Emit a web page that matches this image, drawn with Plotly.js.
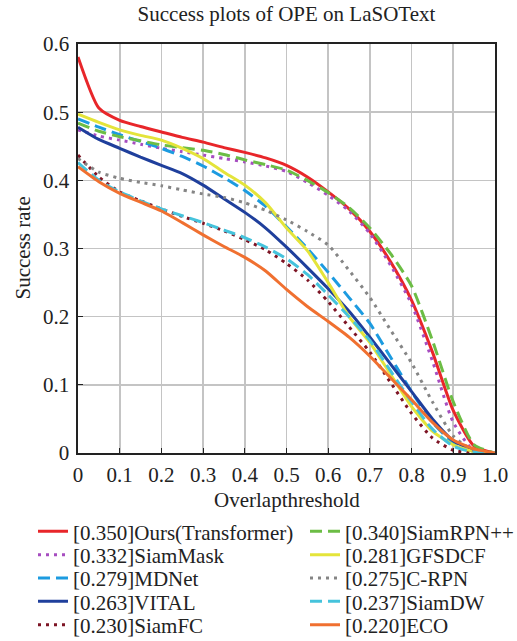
<!DOCTYPE html>
<html>
<head>
<meta charset="utf-8">
<script src="https://cdn.plot.ly/plotly-3.0.1.min.js"></script>
<style>html,body{margin:0;padding:0;background:#fff;}#chart{width:517px;height:641px;}</style>
</head>
<body>
<div id="chart"></div>
<script>
const thresholds = [0,0.05,0.1,0.15,0.2,0.25,0.3,0.35,0.4,0.45,0.5,0.55,0.6,0.65,0.7,0.75,0.8,0.85,0.9,0.95,1.0];

const ours     = [0.581,0.506,0.488,0.479,0.471,0.463,0.456,0.448,0.441,0.433,0.422,0.405,0.383,0.358,0.325,0.280,0.224,0.148,0.062,0.010,0.0];
const siamrpnpp= [0.484,0.472,0.464,0.458,0.452,0.448,0.444,0.438,0.430,0.423,0.415,0.400,0.382,0.360,0.330,0.292,0.245,0.165,0.075,0.012,0.0];
const siammask = [0.474,0.465,0.459,0.453,0.447,0.442,0.437,0.432,0.427,0.421,0.413,0.397,0.378,0.355,0.322,0.275,0.218,0.135,0.045,0.003,0.0];
const gfsdcf   = [0.497,0.485,0.474,0.466,0.459,0.447,0.432,0.412,0.393,0.367,0.330,0.297,0.250,0.200,0.162,0.115,0.068,0.032,0.012,0.002,0.0];
const mdnet    = [0.490,0.478,0.467,0.457,0.447,0.435,0.421,0.404,0.385,0.362,0.332,0.300,0.265,0.228,0.190,0.140,0.090,0.045,0.015,0.002,0.0];
const crpn     = [0.432,0.412,0.403,0.397,0.392,0.386,0.380,0.375,0.367,0.356,0.342,0.325,0.305,0.268,0.228,0.180,0.132,0.075,0.025,0.003,0.0];
const vital    = [0.478,0.460,0.447,0.434,0.422,0.410,0.393,0.373,0.353,0.330,0.302,0.272,0.241,0.208,0.170,0.130,0.090,0.050,0.018,0.004,0.0];
const siamdw   = [0.426,0.400,0.383,0.370,0.358,0.348,0.338,0.327,0.316,0.302,0.285,0.262,0.232,0.200,0.165,0.120,0.075,0.035,0.010,0.001,0.0];
const siamfc   = [0.437,0.405,0.383,0.370,0.358,0.347,0.337,0.326,0.313,0.298,0.278,0.254,0.222,0.185,0.148,0.103,0.058,0.022,0.004,0.0,0.0];
const eco      = [0.420,0.398,0.381,0.368,0.355,0.338,0.320,0.303,0.287,0.267,0.240,0.215,0.193,0.170,0.142,0.110,0.078,0.045,0.019,0.006,0.0];

const xTickVals = [0,0.1,0.2,0.3,0.4,0.5,0.6,0.7,0.8,0.9,1.0];
const xTickText = ["0","0.1","0.2","0.3","0.4","0.5","0.6","0.7","0.8","0.9","1.0"];
const yTickVals = [0,0.1,0.2,0.3,0.4,0.5,0.6];
const yTickText = ["0","0.1","0.2","0.3","0.4","0.5","0.6"];

const titleText = "Success plots of OPE on LaSOText";
const xTitle = "Overlapthreshold";
const yTitle = "Success rate";

const DASH = "12px,6px", DOT = "3px,5px";
const series = [
  {name:"[0.350]Ours(Transformer)", y:ours,      color:"#e8262a", dash:"solid", col:0, row:0},
  {name:"[0.332]SiamMask",          y:siammask,  color:"#a64dc0", dash:DOT,     col:0, row:1},
  {name:"[0.279]MDNet",             y:mdnet,     color:"#1c9be0", dash:DASH,    col:0, row:2},
  {name:"[0.263]VITAL",             y:vital,     color:"#1f3f9c", dash:"solid", col:0, row:3},
  {name:"[0.230]SiamFC",            y:siamfc,    color:"#7d1424", dash:DOT,     col:0, row:4},
  {name:"[0.340]SiamRPN++",         y:siamrpnpp, color:"#6cbd45", dash:DASH,    col:1, row:0},
  {name:"[0.281]GFSDCF",            y:gfsdcf,    color:"#e4e43a", dash:"solid", col:1, row:1},
  {name:"[0.275]C-RPN",             y:crpn,      color:"#858585", dash:DOT,     col:1, row:2},
  {name:"[0.237]SiamDW",            y:siamdw,    color:"#45c3dc", dash:DASH,    col:1, row:3},
  {name:"[0.220]ECO",               y:eco,       color:"#f07030", dash:"solid", col:1, row:4}
];

const font = "Liberation Serif, Times New Roman, serif";
const W = 517, H = 641;
const M = {l:78, r:22, t:44, b:188};
const plotW = W - M.l - M.r, plotH = H - M.t - M.b;
const colX = [33, 305];
const rowY = [531.7, 555, 578.3, 601.7, 625];

const traces = [];
const layout = {
  width:W, height:H,
  margin:{l:M.l, r:M.r, t:M.t, b:M.b, autoexpand:false},
  paper_bgcolor:"#fff", plot_bgcolor:"#fff",
  font:{family:font, color:"#222", size:21},
  title:{text:titleText, font:{family:font, size:21, color:"#222"},
    x:0.5, xref:"paper", xanchor:"center", y:1-14/H, yref:"container", yanchor:"middle"},
  xaxis:{range:[0,1], tickvals:xTickVals, ticktext:xTickText, ticks:"inside", ticklen:5, tickcolor:"#222",
    showgrid:true, gridcolor:"#c4c4c4", gridwidth:1.6, zeroline:false, showline:true, linecolor:"#222", linewidth:1.6, mirror:true,
    tickfont:{size:21}, ticklabelstandoff:2},
  yaxis:{range:[0,0.6], tickvals:yTickVals, ticktext:yTickText, ticks:"inside", ticklen:5, tickcolor:"#222",
    showgrid:true, gridcolor:"#c4c4c4", gridwidth:1.6, zeroline:false, showline:true, linecolor:"#222", linewidth:1.6, mirror:true,
    tickfont:{size:21}, ticklabelstandoff:3},
  annotations:[
    {text:xTitle, xref:"paper", yref:"paper", x:0.5, y:-(500-(M.t+plotH))/plotH, xanchor:"center", yanchor:"middle",
      showarrow:false, font:{size:21, family:font, color:"#222"}},
    {text:yTitle, xref:"paper", yref:"paper", x:(22-M.l)/plotW, y:0.5, xanchor:"center", yanchor:"middle",
      textangle:-90, showarrow:false, font:{size:21, family:font, color:"#222"}}
  ],
  showlegend:true
};

series.forEach((s, i) => {
  const lid = i === 0 ? "legend" : "legend" + (i + 1);
  traces.push({
    type:"scatter", mode:"lines", x:thresholds, y:s.y, name:s.name, legend:lid,
    line:{color:s.color, width:3, dash:s.dash, shape:"spline", smoothing:0.6}
  });
  layout[lid] = {
    xref:"container", yref:"container",
    x:colX[s.col]/W, xanchor:"left", y:1 - rowY[s.row]/H, yanchor:"middle",
    itemwidth:30, font:{size:21, family:font, color:"#222"}, bgcolor:"rgba(0,0,0,0)", borderwidth:0
  };
});

Plotly.newPlot("chart", traces, layout, {displayModeBar:false, staticPlot:true});
</script>
</body>
</html>
